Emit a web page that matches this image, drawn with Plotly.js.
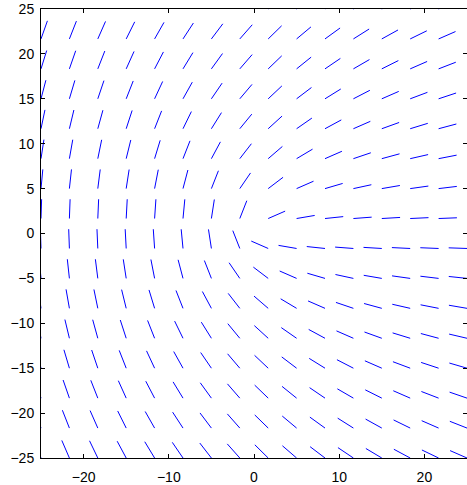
<!DOCTYPE html>
<html>
<head>
<meta charset="utf-8">
<script src="https://cdn.plot.ly/plotly-3.0.1.min.js"></script>
<style>
  html, body { margin: 0; padding: 0; background: #ffffff; }
  #chart { width: 467px; height: 485px; }
</style>
</head>
<body>
<div id="chart"></div>
<script>
// Grid positions (tails of the direction segments)
const xGrid = [-25, -21.667, -18.333, -15, -11.667, -8.333, -5, -1.667,
               1.667, 5, 8.333, 11.667, 15, 18.333, 21.667, 25];
// rows from top (y = 25) to bottom (y = -25)
const yGrid = [25, 21.667, 18.333, 15, 11.667, 8.333, 5, 1.667,
               -1.667, -5, -8.333, -11.667, -15, -18.333, -21.667, -25];

// Direction of each segment in degrees (row = yGrid, column = xGrid)
const angleDeg = [
  [67.5, 65.5, 63.1, 60.5, 57.5, 54.2, 50.7, 46.9, 43.1, 39.3, 35.8, 32.5, 29.5, 26.9, 24.5, 22.5],
  [69.5, 67.5, 65.1, 62.3, 59.1, 55.5, 51.5, 47.2, 42.8, 38.5, 34.5, 30.9, 27.7, 24.9, 22.5, 20.5],
  [71.9, 69.9, 67.5, 64.6, 61.2, 57.2, 52.6, 47.6, 42.4, 37.4, 32.8, 28.8, 25.4, 22.5, 20.1, 18.1],
  [74.5, 72.6, 70.4, 67.5, 63.9, 59.5, 54.2, 48.2, 41.8, 35.8, 30.5, 26.1, 22.5, 19.6, 17.4, 15.5],
  [77.5, 75.8, 73.8, 71.1, 67.5, 62.8, 56.6, 49.1, 40.9, 33.4, 27.2, 22.5, 18.9, 16.2, 14.2, 12.5],
  [80.8, 79.5, 77.8, 75.5, 72.2, 67.5, 60.5, 50.7, 39.3, 29.5, 22.5, 17.8, 14.5, 12.2, 10.5, 9.2],
  [84.3, 83.5, 82.4, 80.8, 78.4, 74.5, 67.5, 54.2, 35.8, 22.5, 15.5, 11.6, 9.2, 7.6, 6.5, 5.7],
  [88.1, 87.8, 87.4, 86.8, 85.9, 84.3, 80.8, 67.5, 22.5, 9.2, 5.7, 4.1, 3.2, 2.6, 2.2, 1.9],
  [91.9, 92.2, 92.6, 93.2, 94.1, 95.7, 99.2, 112.5, 157.5, 170.8, 174.3, 175.9, 176.8, 177.4, 177.8, 178.1],
  [95.7, 96.5, 97.6, 99.2, 101.6, 105.5, 112.5, 125.8, 144.2, 157.5, 164.5, 168.4, 170.8, 172.4, 173.5, 174.3],
  [99.2, 100.5, 102.2, 104.5, 107.8, 112.5, 119.5, 129.3, 140.7, 150.5, 157.5, 162.2, 165.5, 167.8, 169.5, 170.8],
  [102.5, 104.2, 106.2, 108.9, 112.5, 117.2, 123.4, 130.9, 139.1, 146.6, 152.8, 157.5, 161.1, 163.8, 165.8, 167.5],
  [105.5, 107.4, 109.6, 112.5, 116.1, 120.5, 125.8, 131.8, 138.2, 144.2, 149.5, 153.9, 157.5, 160.4, 162.6, 164.5],
  [108.1, 110.1, 112.5, 115.4, 118.8, 122.8, 127.4, 132.4, 137.6, 142.6, 147.2, 151.2, 154.6, 157.5, 159.9, 161.9],
  [110.5, 112.5, 114.9, 117.7, 120.9, 124.5, 128.5, 132.8, 137.2, 141.5, 145.5, 149.1, 152.3, 155.1, 157.5, 159.5],
  [112.5, 114.5, 116.9, 119.5, 122.5, 125.8, 129.3, 133.1, 136.9, 140.7, 144.2, 147.5, 150.5, 153.1, 155.5, 157.5]
];

// Segment length in data units
const segLength = 2.15;

const xTicks = [-20, -10, 0, 10, 20];
const yTicks = [-25, -20, -15, -10, -5, 0, 5, 10, 15, 20, 25];

const sx = [], sy = [];
yGrid.forEach((y, i) => {
  xGrid.forEach((x, j) => {
    const a = angleDeg[i][j] * Math.PI / 180;
    sx.push(x, x + segLength * Math.cos(a), null);
    sy.push(y, y + segLength * Math.sin(a), null);
  });
});

const trace = {
  type: 'scatter',
  mode: 'lines',
  x: sx,
  y: sy,
  line: { color: '#0000ff', width: 1 },
  connectgaps: false,
  hoverinfo: 'skip',
  showlegend: false
};

const axisCommon = {
  showgrid: false,
  zeroline: false,
  showline: true,
  linecolor: '#000000',
  linewidth: 1,
  mirror: 'ticks',
  ticks: 'inside',
  ticklen: 4,
  tickwidth: 1,
  tickcolor: '#000000',
  tickfont: { family: 'Liberation Sans, Arial, Helvetica, sans-serif', size: 14, color: '#000000' }
};

const layout = {
  width: 467,
  height: 485,
  margin: { l: 41, r: 0, t: 9, b: 27 },
  paper_bgcolor: '#ffffff',
  plot_bgcolor: '#ffffff',
  showlegend: false,
  xaxis: Object.assign({}, axisCommon, {
    range: [-25, 25],
    tickmode: 'array',
    tickvals: xTicks,
    ticktext: xTicks.map(v => v < 0 ? '\u2212' + Math.abs(v) : String(v)),
    ticklabelstandoff: 6
  }),
  yaxis: Object.assign({}, axisCommon, {
    range: [-25, 25],
    tickmode: 'array',
    tickvals: yTicks,
    ticktext: yTicks.map(v => v < 0 ? '\u2212' + Math.abs(v) : String(v)),
    ticklabelstandoff: 3
  })
};

Plotly.newPlot('chart', [trace], layout, { displayModeBar: false, staticPlot: true });
</script>
</body>
</html>
